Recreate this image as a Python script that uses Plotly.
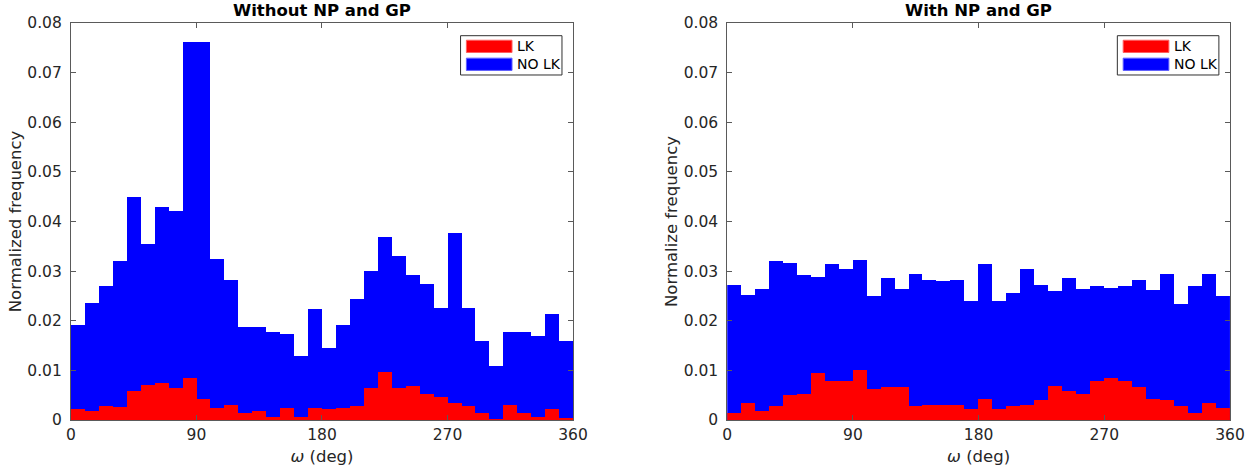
import numpy as np
import plotly.graph_objects as go

# ---- data (normalized frequencies, 10-degree bins over omega) ----
bin_width = 10
omega_centers = np.arange(5, 360, bin_width)

nolk_without = [0.0191, 0.0236, 0.0271, 0.0320, 0.0449, 0.0355, 0.0429, 0.0421, 0.0762, 0.0762,
                0.0325, 0.0282, 0.0188, 0.0188, 0.0178, 0.0174, 0.0128, 0.0224, 0.0146, 0.0191,
                0.0244, 0.0300, 0.0369, 0.0331, 0.0293, 0.0275, 0.0226, 0.0377, 0.0226, 0.0159,
                0.0109, 0.0177, 0.0177, 0.0170, 0.0213, 0.0159]
lk_without = [0.0022, 0.0018, 0.0028, 0.0026, 0.0059, 0.0070, 0.0074, 0.0064, 0.0085, 0.0043,
              0.0025, 0.0031, 0.0014, 0.0018, 0.0007, 0.0025, 0.0007, 0.0025, 0.0022, 0.0025,
              0.0028, 0.0064, 0.0096, 0.0064, 0.0068, 0.0053, 0.0046, 0.0035, 0.0028, 0.0014,
              0.0003, 0.0031, 0.0014, 0.0007, 0.0022, 0.0004]
nolk_with = [0.0273, 0.0251, 0.0265, 0.0320, 0.0317, 0.0292, 0.0289, 0.0315, 0.0305, 0.0323,
             0.0249, 0.0286, 0.0265, 0.0295, 0.0283, 0.0280, 0.0283, 0.0239, 0.0315, 0.0239,
             0.0255, 0.0305, 0.0273, 0.0259, 0.0286, 0.0265, 0.0271, 0.0267, 0.0271, 0.0283,
             0.0261, 0.0295, 0.0233, 0.0271, 0.0295, 0.0249]
lk_with = [0.0015, 0.0034, 0.0019, 0.0028, 0.0050, 0.0053, 0.0095, 0.0078, 0.0078, 0.0100,
           0.0063, 0.0066, 0.0066, 0.0028, 0.0030, 0.0030, 0.0030, 0.0022, 0.0043, 0.0022,
           0.0028, 0.0030, 0.0041, 0.0069, 0.0059, 0.0053, 0.0078, 0.0084, 0.0078, 0.0066,
           0.0043, 0.0041, 0.0028, 0.0015, 0.0034, 0.0025]

x_ticks = [0, 90, 180, 270, 360]
y_ticks = [0, 0.01, 0.02, 0.03, 0.04, 0.05, 0.06, 0.07, 0.08]
y_ticklabels = ["0", "0.01", "0.02", "0.03", "0.04", "0.05", "0.06", "0.07", "0.08"]
titles = ["Without NP and GP", "With NP and GP"]
ylabels = ["Normalized frequency", "Normalize frequency"]
legend_names = ["LK", "NO LK"]

RED = "#ff0000"
BLUE = "#0000ff"
AX = "#5a5a5a"
TXT = "#262626"
FONT = "DejaVu Sans"

fig = go.Figure()
panels = [(nolk_without, lk_without, "x", "y"), (nolk_with, lk_with, "x2", "y2")]
for nolk, lk, xa, ya in panels:
    fig.add_trace(go.Bar(x=omega_centers, y=nolk, width=bin_width, marker=dict(color=BLUE, line=dict(width=0)),
                         name=legend_names[1], xaxis=xa, yaxis=ya, showlegend=False))
    fig.add_trace(go.Bar(x=omega_centers, y=lk, width=bin_width, marker=dict(color=RED, line=dict(width=0)),
                         name=legend_names[0], xaxis=xa, yaxis=ya, showlegend=False))

W, H = 1258, 475
ydom = [0.1158, 0.9516]
xdoms = [[0.0564, 0.4555], [0.5781, 0.9777]]

axis_common = dict(showline=True, linecolor=AX, linewidth=1, mirror="ticks", ticks="inside", ticklen=5,
                   tickcolor=AX, showgrid=False, zeroline=False, automargin=False,
                   tickfont=dict(family=FONT, size=15.5, color=TXT))

layout = dict(barmode="overlay", bargap=0, width=W, height=H,
              margin=dict(l=0, r=0, t=0, b=0), plot_bgcolor="white", paper_bgcolor="white",
              font=dict(family=FONT, color=TXT))
for i, suffix in enumerate(["", "2"]):
    layout["xaxis" + suffix] = dict(axis_common, domain=xdoms[i], range=[0, 360], tickvals=x_ticks,
                                    anchor="y" + suffix, ticklabelstandoff=0,
                                    title=dict(text="<i>ω</i> (deg)", font=dict(family=FONT, size=16.5, color=TXT), standoff=7))
    layout["yaxis" + suffix] = dict(axis_common, domain=ydom, range=[0, 0.08], tickvals=y_ticks,
                                    ticktext=y_ticklabels, anchor="x" + suffix, ticklabelstandoff=5,
                                    title=dict(text=ylabels[i], font=dict(family=FONT, size=16.5, color=TXT), standoff=1))
fig.update_layout(**layout)

annotations = []
shapes = []
for i, suffix in enumerate(["", "2"]):
    xd = xdoms[i]
    annotations.append(dict(text="<b>%s</b>" % titles[i], x=(xd[0] + xd[1]) / 2, y=ydom[1] + 0.002,
                            xref="paper", yref="paper", xanchor="center", yanchor="bottom", showarrow=False,
                            font=dict(family=FONT, size=16.5, color="black")))
    xr = "x%s domain" % suffix
    yr = "y%s domain" % suffix
    # legend box
    shapes.append(dict(type="rect", xref=xr, yref=yr, x0=0.776, x1=0.978, y0=0.869, y1=0.968,
                       line=dict(color="#303030", width=1), fillcolor="white"))
    shapes.append(dict(type="rect", xref=xr, yref=yr, x0=0.7876, x1=0.8785, y0=0.9257, y1=0.9566,
                       line=dict(color="#ff6060", width=1), fillcolor=RED))
    shapes.append(dict(type="rect", xref=xr, yref=yr, x0=0.7876, x1=0.8785, y0=0.8805, y1=0.9114,
                       line=dict(color="#6060ff", width=1), fillcolor=BLUE))
    annotations.append(dict(text=legend_names[0], xref=xr, yref=yr, x=0.884, y=0.941, xanchor="left",
                            yanchor="middle", showarrow=False, font=dict(family=FONT, size=14, color="black")))
    annotations.append(dict(text=legend_names[1], xref=xr, yref=yr, x=0.884, y=0.896, xanchor="left",
                            yanchor="middle", showarrow=False, font=dict(family=FONT, size=14, color="black")))
fig.update_layout(annotations=annotations, shapes=shapes)

# remove the browser's default 8px body margin so the figure fills the window exactly
fig.write_html("out.html", config={"displayModeBar": False},
               post_script="document.body.style.margin='0';document.body.style.overflow='hidden';")
